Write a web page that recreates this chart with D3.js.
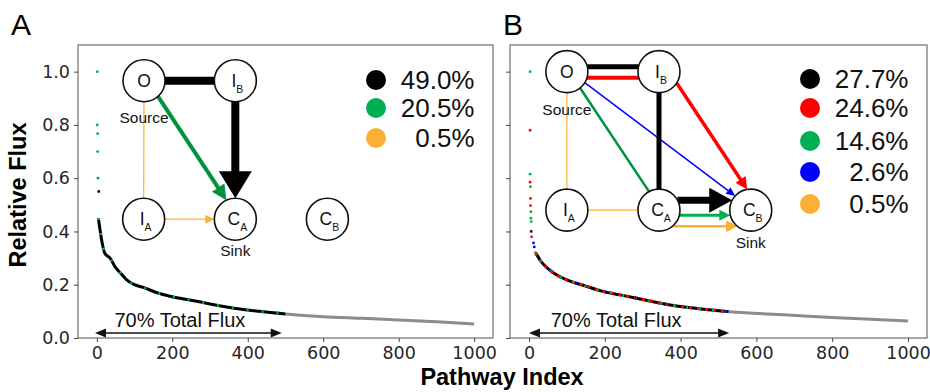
<!DOCTYPE html>
<html>
<head>
<meta charset="utf-8">
<script src="https://cdn.jsdelivr.net/npm/d3@7"></script>
<style>
  body { margin: 0; background: #fff; }
  svg text { font-family: "Liberation Sans", Arial, sans-serif; }
  .tick text { font-family: "DejaVu Sans", sans-serif; }
</style>
</head>
<body>
<div id="chart"></div>
<script>
// ---- data ----
const xTicks = [0, 200, 400, 600, 800, 1000];
const yTicks = [0, 0.2, 0.4, 0.6, 0.8, 1.0];

// panel A: isolated top pathways
const headIdxA = [1, 1, 2, 2, 3, 5];
const headFluxA = [1.0, 0.80, 0.767, 0.70, 0.60, 0.55];
const headClassA = ['g', 'g', 'g', 'g', 'g', 'k'];
// panel A: dense tail of the ranked pathways
const curveIdxA = [4, 8, 13, 21, 35, 48, 65, 79, 100, 123, 160, 199, 250, 300, 363, 430, 500, 600, 700, 800, 900, 1000];
const curveFluxA = [0.45, 0.41, 0.365, 0.318, 0.30, 0.268, 0.24, 0.218, 0.20, 0.19, 0.17, 0.155, 0.142, 0.128, 0.112, 0.10, 0.09, 0.080, 0.074, 0.068, 0.061, 0.053];
const cutA = 500;
const spanA = [-5, 490];
const legendLabelsA = ['49.0%', '20.5%', '0.5%'];
const legendClassA = ['k', 'g', 'o'];

// panel B
const headIdxB = [3, 3, 3, 3, 4, 4, 4, 5, 5, 6, 6, 7, 12, 14, 17];
const headFluxB = [1.0, 0.78, 0.615, 0.585, 0.568, 0.524, 0.497, 0.474, 0.45, 0.437, 0.40, 0.38, 0.357, 0.342, 0.32];
const headClassB = ['g', 'r', 'g', 'r', 'g', 'r', 'r', 'g', 'g', 'g', 'k', 'r', 'b', 'b', 'g'];
const curveIdxB = [17, 22, 29, 55, 100, 150, 192, 240, 285, 373, 461, 527, 593, 726, 814, 902, 1000];
const curveFluxB = [0.32, 0.31, 0.293, 0.255, 0.218, 0.195, 0.176, 0.162, 0.149, 0.124, 0.108, 0.099, 0.093, 0.083, 0.076, 0.07, 0.064];
const cutB = 527;
const spanB = [0, 528];
const legendLabelsB = ['27.7%', '24.6%', '14.6%', '2.6%', '0.5%'];
const legendClassB = ['k', 'r', 'g', 'b', 'o'];

const colors = { k: '#000000', r: '#ff0000', g: '#00b050', b: '#0000ff', o: '#fbb034', dg: '#00923f' };

// ---- layout ----
const W = 930, H = 392;
const plotTop = 45, plotBottom = 338;

const panels = [
  {
    letter: 'A', letterX: 11, left: 78, right: 493, showY: true,
    headIdx: headIdxA, headFlux: headFluxA, headClass: headClassA,
    curveIdx: curveIdxA, curveFlux: curveFluxA, cut: cutA, span: spanA, spanTextAt: 220,
    overlays: [{ c: 'g', dash: '2,13', off: 0 }],
    legend: legendLabelsA, legendClass: legendClassA, legendY: [80, 108, 138],
    nodes: [
      { id: 'O', main: 'O', sub: '', i: 125, f: 0.966, note: 'Source', noteDy: 42 },
      { id: 'IB', main: 'I', sub: 'B', i: 367, f: 0.966 },
      { id: 'IA', main: 'I', sub: 'A', i: 124, f: 0.446 },
      { id: 'CA', main: 'C', sub: 'A', i: 367, f: 0.446, note: 'Sink', noteDy: 37 },
      { id: 'CB', main: 'C', sub: 'B', i: 611, f: 0.446 }
    ],
    edges: [
      { a: 'O', b: 'IB', c: 'k', w: 8, off: 0 },
      { a: 'IB', b: 'CA', c: 'k', w: 8, off: 0, hl: 27, hw: 33 },
      { a: 'O', b: 'CA', c: 'dg', w: 4, off: -3, hl: 15, hw: 15 },
      { a: 'O', b: 'IA', c: 'o', w: 1.2, off: 0 },
      { a: 'IA', b: 'CA', c: 'o', w: 1.2, off: 0, hl: 9, hw: 9 }
    ]
  },
  {
    letter: 'B', letterX: 503, left: 510, right: 927, showY: false,
    headIdx: headIdxB, headFlux: headFluxB, headClass: headClassB,
    curveIdx: curveIdxB, curveFlux: curveFluxB, cut: cutB, span: spanB, spanTextAt: 230,
    overlays: [{ c: 'r', dash: '3,5', off: 0 }, { c: 'g', dash: '2,11', off: 4 }, { c: 'b', dash: '1.5,29', off: 9 }],
    legend: legendLabelsB, legendClass: legendClassB, legendY: [79, 108, 141, 172, 204],
    nodes: [
      { id: 'O', main: 'O', sub: '', i: 100, f: 1.0, note: 'Source', noteDy: 43 },
      { id: 'IB', main: 'I', sub: 'B', i: 343, f: 1.0 },
      { id: 'IA', main: 'I', sub: 'A', i: 100, f: 0.48 },
      { id: 'CA', main: 'C', sub: 'A', i: 343, f: 0.48 },
      { id: 'CB', main: 'C', sub: 'B', i: 585, f: 0.48, note: 'Sink', noteDy: 38 }
    ],
    edges: [
      { a: 'O', b: 'IA', c: 'o', w: 1.2, off: 0 },
      { a: 'IA', b: 'CA', c: 'o', w: 1.2, off: 0 },
      { a: 'O', b: 'CA', c: 'dg', w: 2.5, off: -2 },
      { a: 'O', b: 'CB', c: 'b', w: 1.5, off: -2, hl: 9, hw: 8 },
      { a: 'O', b: 'IB', c: 'k', w: 5, off: -5 },
      { a: 'O', b: 'IB', c: 'r', w: 4, off: 6 },
      { a: 'IB', b: 'CA', c: 'k', w: 5, off: 0 },
      { a: 'IB', b: 'CB', c: 'r', w: 3.5, off: -8.5, hl: 12, hw: 12 },
      { a: 'CA', b: 'CB', c: 'k', w: 7, off: -10, hl: 23, hw: 25 },
      { a: 'CA', b: 'CB', c: 'g', w: 3, off: 5, hl: 11, hw: 11 },
      { a: 'CA', b: 'CB', c: 'o', w: 2.5, off: 16, hl: 11, hw: 12 }
    ]
  }
];

const svg = d3.select('#chart').append('svg')
  .attr('width', W).attr('height', H);

const R = 21;

panels.forEach(p => {
  const x = d3.scaleLinear().domain([-50, 1050]).range([p.left, p.right]);
  const y = d3.scaleLinear().domain([0, 1.1]).range([plotBottom, plotTop]);
  const g = svg.append('g');

  // frame
  g.append('rect')
    .attr('x', p.left).attr('y', plotTop)
    .attr('width', p.right - p.left).attr('height', plotBottom - plotTop)
    .attr('fill', 'none').attr('stroke', '#6e6e6e').attr('stroke-width', 1.2);

  // axes
  const xa = g.append('g').attr('transform', `translate(0,${plotBottom})`)
    .call(d3.axisBottom(x).tickValues(xTicks).tickSize(4).tickPadding(5)
      .tickFormat(d3.format('d')));
  const ya = g.append('g').attr('transform', `translate(${p.left},0)`)
    .call(d3.axisLeft(y).tickValues(yTicks).tickSize(4).tickPadding(4)
      .tickFormat(p.showY ? d3.format('.1f') : ''));
  [xa, ya].forEach(a => {
    a.select('.domain').remove();
    a.selectAll('.tick line').attr('stroke', '#444');
    a.selectAll('.tick text').attr('font-size', 17.5).attr('fill', '#262626');
  });

  // panel letter
  svg.append('text').attr('x', p.letterX).attr('y', 35)
    .attr('font-size', 30).text(p.letter);

  // curve
  const pts = p.curveIdx.map((d, k) => [d, p.curveFlux[k]]);
  const line = d3.line().x(d => x(d[0])).y(d => y(d[1])).curve(d3.curveMonotoneX);
  const hot = pts.filter(d => d[0] <= p.cut);
  const cold = pts.filter(d => d[0] >= p.cut);
  g.append('path').attr('d', line(cold)).attr('fill', 'none')
    .attr('stroke', '#8c8c8c').attr('stroke-width', 3);
  g.append('path').attr('d', line(hot)).attr('fill', 'none')
    .attr('stroke', '#000').attr('stroke-width', 3);
  p.overlays.forEach(o => {
    g.append('path').attr('d', line(hot)).attr('fill', 'none')
      .attr('stroke', colors[o.c]).attr('stroke-width', 3)
      .attr('stroke-dasharray', o.dash).attr('stroke-dashoffset', o.off);
  });

  // isolated head points
  g.selectAll('circle.head').data(p.headIdx).enter().append('circle')
    .attr('class', 'head')
    .attr('cx', d => x(d))
    .attr('cy', (d, k) => y(p.headFlux[k]))
    .attr('r', 1.4)
    .attr('fill', (d, k) => colors[p.headClass[k]]);

  // 70% total flux arrow
  const ay = plotBottom - 5;
  const ax0 = x(p.span[0]), ax1 = x(p.span[1]);
  g.append('line').attr('x1', ax0 + 6).attr('x2', ax1 - 6)
    .attr('y1', ay).attr('y2', ay).attr('stroke', '#111').attr('stroke-width', 1.6);
  g.append('path').attr('d', `M${ax0},${ay} L${ax0 + 11},${ay - 4.5} L${ax0 + 11},${ay + 4.5} Z`).attr('fill', '#111');
  g.append('path').attr('d', `M${ax1},${ay} L${ax1 - 11},${ay - 4.5} L${ax1 - 11},${ay + 4.5} Z`).attr('fill', '#111');
  g.append('text').attr('x', x(p.spanTextAt)).attr('y', ay - 6.5)
    .attr('text-anchor', 'middle').attr('font-size', 20).attr('fill', '#111')
    .text('70% Total Flux');

  // network inset
  const nodeById = {};
  p.nodes.forEach(n => { nodeById[n.id] = { cx: x(n.i), cy: y(n.f) }; });

  p.edges.forEach(e => {
    const A = nodeById[e.a], B = nodeById[e.b];
    const dx = B.cx - A.cx, dy = B.cy - A.cy, len = Math.hypot(dx, dy);
    const ux = dx / len, uy = dy / len, nx = -uy, ny = ux;
    const along = Math.sqrt(R * R - e.off * e.off);
    const sx = A.cx + ux * along + nx * e.off, sy = A.cy + uy * along + ny * e.off;
    const tx = B.cx - ux * along + nx * e.off, ty = B.cy - uy * along + ny * e.off;
    const col = colors[e.c];
    let lx = tx, ly = ty;
    if (e.hl) { lx = tx - ux * e.hl * 0.8; ly = ty - uy * e.hl * 0.8; }
    g.append('line').attr('x1', sx).attr('y1', sy).attr('x2', lx).attr('y2', ly)
      .attr('stroke', col).attr('stroke-width', e.w);
    if (e.hl) {
      const bx = tx - ux * e.hl, by = ty - uy * e.hl;
      g.append('path')
        .attr('d', `M${tx},${ty} L${bx + nx * e.hw / 2},${by + ny * e.hw / 2} L${bx - nx * e.hw / 2},${by - ny * e.hw / 2} Z`)
        .attr('fill', col);
    }
  });

  p.nodes.forEach(n => {
    const c = nodeById[n.id];
    g.append('circle').attr('cx', c.cx).attr('cy', c.cy).attr('r', R)
      .attr('fill', '#fff').attr('stroke', '#111').attr('stroke-width', 1.6);
    const t = g.append('text').attr('x', c.cx + (n.sub ? 2 : 0)).attr('y', c.cy + 6)
      .attr('text-anchor', 'middle').attr('font-size', 17.5).attr('fill', '#111');
    t.append('tspan').text(n.main);
    if (n.sub) t.append('tspan').attr('font-size', 10.5).attr('dy', 6).text(n.sub);
    if (n.note) {
      g.append('text').attr('x', c.cx).attr('y', c.cy + n.noteDy)
        .attr('text-anchor', 'middle').attr('font-size', 15.5).attr('fill', '#111')
        .text(n.note);
    }
  });

  // legend
  p.legend.forEach((lab, k) => {
    const cy = p.legendY[k];
    g.append('circle').attr('cx', p.right - 117).attr('cy', cy).attr('r', 10)
      .attr('fill', colors[p.legendClass[k]]);
    g.append('text').attr('x', p.right - 18.5).attr('y', cy + 9)
      .attr('text-anchor', 'end').attr('font-size', 26).attr('fill', '#111')
      .text(lab);
  });
});

// axis titles
svg.append('text').attr('transform', 'translate(26,195) rotate(-90)')
  .attr('text-anchor', 'middle').attr('font-size', 23.5).attr('font-weight', 'bold')
  .text('Relative Flux');
svg.append('text').attr('x', 502).attr('y', 385)
  .attr('text-anchor', 'middle').attr('font-size', 23.5).attr('font-weight', 'bold')
  .text('Pathway Index');
</script>
</body>
</html>
